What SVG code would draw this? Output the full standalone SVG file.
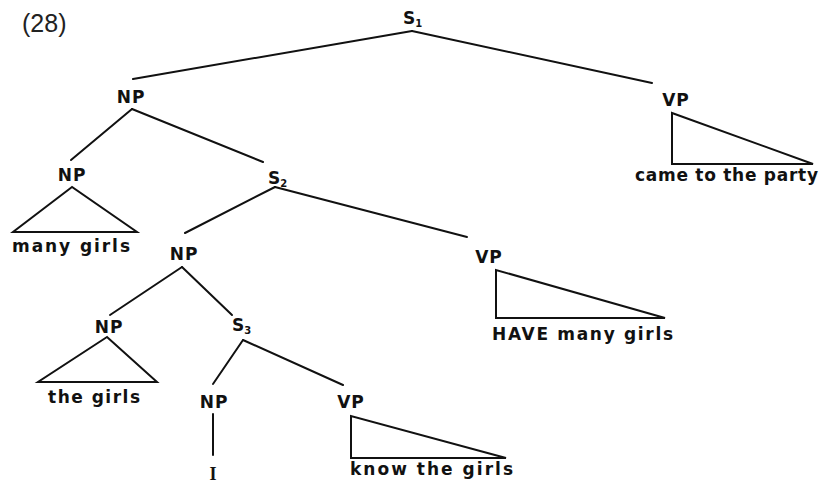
<svg xmlns="http://www.w3.org/2000/svg" width="822" height="490" viewBox="0 0 822 490">
<style>
.lbl{font-family:"DejaVu Sans","Liberation Sans",sans-serif;font-weight:bold;font-size:17px;fill:#111;text-anchor:middle;letter-spacing:1px}
.slbl{font-family:"DejaVu Sans","Liberation Sans",sans-serif;font-weight:bold;font-size:17px;fill:#111}
.txt{font-family:"DejaVu Sans","Liberation Sans",sans-serif;font-weight:bold;font-size:17px;fill:#111}
.sub{font-size:10px}
.edge{stroke:#111;stroke-width:2;fill:none;stroke-linecap:round}
.tri{stroke:#111;stroke-width:2;fill:none;stroke-linejoin:miter}
</style>
<rect width="822" height="490" fill="#fff"/>
<text x="22" y="32" font-family="Liberation Sans, Arial, sans-serif" font-size="25" fill="#222">(28)</text>
<g id="connectors">
<line class="edge" x1="412" y1="31" x2="133" y2="79"/>
<line class="edge" x1="412" y1="31" x2="652" y2="83"/>
<line class="edge" x1="132" y1="109" x2="71" y2="160"/>
<line class="edge" x1="132" y1="109" x2="263" y2="162"/>
<line class="edge" x1="275" y1="187" x2="185" y2="233"/>
<line class="edge" x1="275" y1="187" x2="467" y2="237"/>
<line class="edge" x1="182" y1="267" x2="110" y2="315"/>
<line class="edge" x1="182" y1="267" x2="232" y2="315"/>
<line class="edge" x1="243" y1="340" x2="213" y2="384"/>
<line class="edge" x1="243" y1="340" x2="343" y2="385"/>
<line class="edge" x1="213" y1="414" x2="213" y2="455"/>
</g>
<g id="S1"><text class="slbl" x="403" y="24">S<tspan class="sub" dy="3">1</tspan></text></g>
<g id="NP1"><text class="lbl" x="131" y="103">NP</text></g>
<g id="VP1"><text class="lbl" x="676" y="106">VP</text>
<polygon class="tri" points="672,113 672,164 813,164"/>
<text class="txt" x="635" y="181" textLength="183" lengthAdjust="spacing">came to the party</text></g>
<g id="NP2"><text class="lbl" x="72" y="181">NP</text>
<polygon class="tri" points="72,187 13,232 137,232"/>
<text class="txt" x="12" y="252" textLength="118" lengthAdjust="spacing">many girls</text></g>
<g id="S2"><text class="slbl" x="268" y="184">S<tspan class="sub" dy="3">2</tspan></text></g>
<g id="NP3"><text class="lbl" x="184" y="260">NP</text></g>
<g id="VP2"><text class="lbl" x="489" y="263">VP</text>
<polygon class="tri" points="496,270 496,318 665,318"/>
<text class="txt" x="492" y="340" textLength="181" lengthAdjust="spacing">HAVE many girls</text></g>
<g id="NP4"><text class="lbl" x="109" y="333">NP</text>
<polygon class="tri" points="107,337 38,382 157,382"/>
<text class="txt" x="48" y="403" textLength="92" lengthAdjust="spacing">the girls</text></g>
<g id="S3"><text class="slbl" x="232" y="331">S<tspan class="sub" dy="3">3</tspan></text></g>
<g id="NP5"><text class="lbl" x="214" y="408">NP</text>
<text x="213" y="480" text-anchor="middle" font-family="Liberation Serif, serif" font-weight="bold" font-size="18" fill="#111">I</text></g>
<g id="VP3"><text class="lbl" x="351" y="408">VP</text>
<polygon class="tri" points="351,416 351,458 506,458"/>
<text class="txt" x="350" y="475" textLength="163" lengthAdjust="spacing">know the girls</text></g>
</svg>
